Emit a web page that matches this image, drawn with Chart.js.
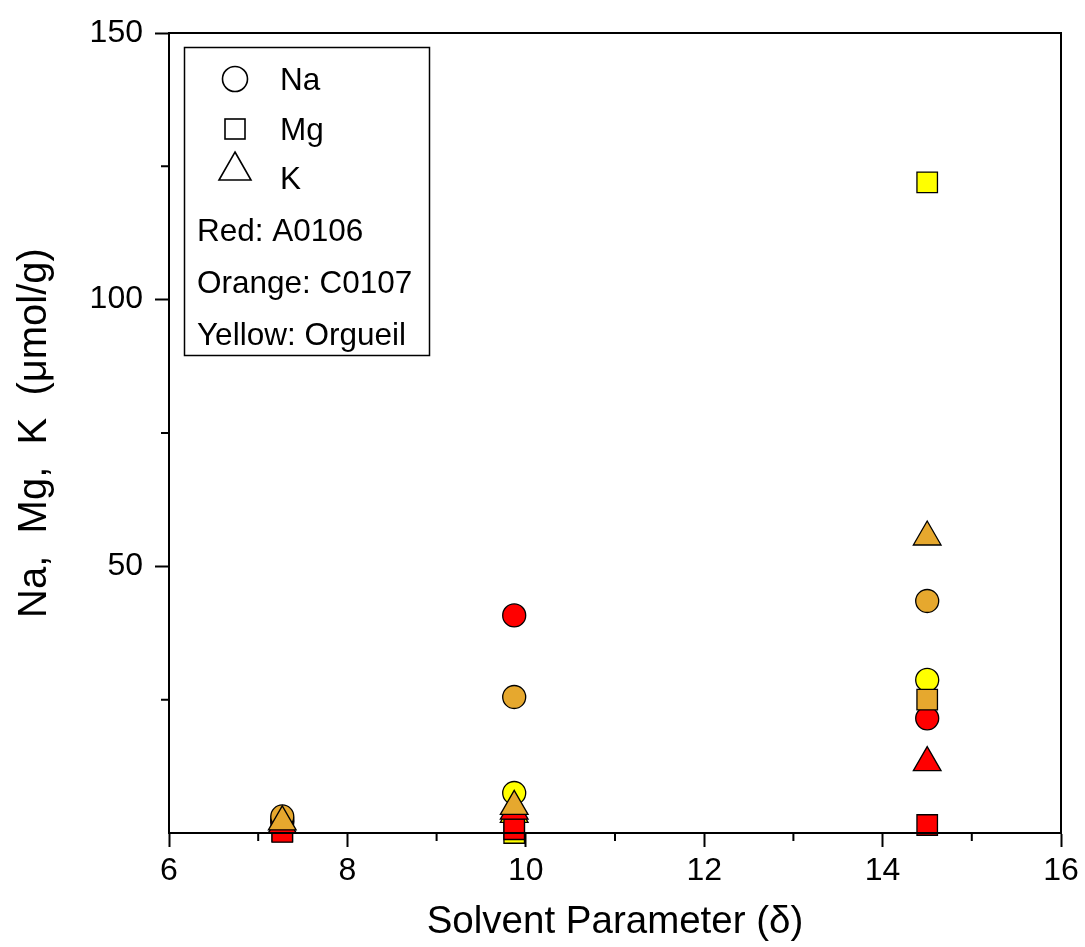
<!DOCTYPE html>
<html>
<head>
<meta charset="utf-8">
<script src="https://cdn.jsdelivr.net/npm/chart.js@4.4.1/dist/chart.umd.min.js"></script>
<style>
  html, body { margin: 0; padding: 0; background: #fff; }
  #wrap { width: 1085px; height: 947px; }
</style>
</head>
<body>
<div id="wrap"><canvas id="myChart" width="1085" height="947"></canvas></div>
<script>
// solvent parameter of each extraction step
const solvent = [7.27, 9.87, 14.5];

// values in umol/g, one entry per solvent step (null = not plotted)
const redNa = [2.0, 40.8, 21.5];
const redMg = [0.2, 0.7, 1.5];
const redK = [1.5, 4.1, 13.2];
const orangeNa = [3.1, 25.5, 43.5];
const orangeMg = [null, null, 25.0];
const orangeK = [2.1, 5.0, 55.5];
const yellowNa = [2.5, 7.5, 28.7];
const yellowMg = [0.3, 0.0, 122.0];
const yellowK = [1.5, 3.5, null];

const xTicks = [6, 8, 10, 12, 14, 16];
const yTicks = [50, 100, 150];

const RED = '#FF0000';
const ORANGE = '#E6A82E';
const YELLOW = '#FFFF00';

function pts(vals) {
    return solvent.map((x, i) => ({ x: x, y: vals[i] }));
}

function series(label, vals, color, style, radius, order) {
    return {
        label: label,
        data: pts(vals),
        pointStyle: style,
        pointRadius: radius,
        pointBackgroundColor: color,
        pointBorderColor: '#000',
        pointBorderWidth: 1.3,
        showLine: false,
        clip: false,
        order: order
    };
}

// lower order is drawn on top
const datasets = [
    series('Orange K', orangeK, ORANGE, 'triangle', 16, 1),
    series('Orange Mg', orangeMg, ORANGE, 'rect', 14.5, 2),
    series('Orange Na', orangeNa, ORANGE, 'circle', 11.5, 3),
    series('Red K', redK, RED, 'triangle', 16, 4),
    series('Red Mg', redMg, RED, 'rect', 14.5, 5),
    series('Red Na', redNa, RED, 'circle', 11.5, 6),
    series('Yellow K', yellowK, YELLOW, 'triangle', 16, 7),
    series('Yellow Mg', yellowMg, YELLOW, 'rect', 14.5, 8),
    series('Yellow Na', yellowNa, YELLOW, 'circle', 11.5, 9)
];

// frame, minor ticks and the key box
const framePlugin = {
    id: 'frame',
    afterDraw(chart) {
        const { ctx, chartArea: a, scales: { x, y } } = chart;
        ctx.save();
        ctx.strokeStyle = '#000';
        ctx.lineWidth = 2;
        ctx.strokeRect(a.left, a.top, a.right - a.left, a.bottom - a.top);

        // minor ticks
        ctx.beginPath();
        for (let v = 7; v < 16; v += 2) {
            const px = x.getPixelForValue(v);
            ctx.moveTo(px, a.bottom);
            ctx.lineTo(px, a.bottom + 8);
        }
        [25, 75, 125].forEach(v => {
            const py = y.getPixelForValue(v);
            ctx.moveTo(a.left, py);
            ctx.lineTo(a.left - 8, py);
        });
        ctx.stroke();

        // key
        ctx.lineWidth = 1.5;
        ctx.strokeRect(184.5, 47.5, 245, 308);
        ctx.lineWidth = 1.6;

        ctx.beginPath();
        ctx.arc(235, 79, 12.5, 0, Math.PI * 2);
        ctx.stroke();

        ctx.strokeRect(225, 119, 20, 20);

        ctx.beginPath();
        ctx.moveTo(235, 152);
        ctx.lineTo(251, 180);
        ctx.lineTo(219, 180);
        ctx.closePath();
        ctx.stroke();

        ctx.fillStyle = '#000';
        ctx.font = '31.5px "Liberation Sans", Arial, sans-serif';
        ctx.textBaseline = 'middle';
        ctx.textAlign = 'left';
        ctx.fillText('Na', 280, 81);
        ctx.fillText('Mg', 280, 131);
        ctx.fillText('K', 280, 180);
        ctx.fillText('Red: A0106', 197, 232);
        ctx.fillText('Orange: C0107', 197, 284);
        ctx.fillText('Yellow: Orgueil', 197, 336);
        ctx.restore();
    }
};

const ctx = document.getElementById('myChart').getContext('2d');
const myChart = new Chart(ctx, {
    type: 'scatter',
    data: { datasets: datasets },
    options: {
        responsive: false,
        animation: false,
        layout: { padding: { top: 33, right: 24, left: 0, bottom: 0 } },
        plugins: {
            legend: { display: false },
            tooltip: { enabled: false }
        },
        scales: {
            x: {
                type: 'linear',
                min: 6,
                max: 16,
                afterFit: s => { s.height = 114; },
                afterBuildTicks: s => { s.ticks = xTicks.map(v => ({ value: v })); },
                ticks: {
                    color: '#000',
                    padding: 5,
                    maxRotation: 0,
                    font: { family: '"Liberation Sans", Arial, sans-serif', size: 32 }
                },
                grid: {
                    drawOnChartArea: false,
                    tickLength: 14,
                    tickWidth: 2,
                    tickColor: '#000'
                },
                border: { color: '#000', width: 2 },
                title: {
                    display: true,
                    text: 'Solvent Parameter (δ)',
                    color: '#000',
                    padding: { top: 0, bottom: 2 },
                    font: { family: '"Liberation Sans", Arial, sans-serif', size: 38.5 }
                }
            },
            y: {
                type: 'linear',
                min: 0,
                max: 150,
                afterFit: s => { s.width = 169; },
                afterBuildTicks: s => { s.ticks = yTicks.map(v => ({ value: v })); },
                ticks: {
                    color: '#000',
                    padding: 12,
                    font: { family: '"Liberation Sans", Arial, sans-serif', size: 32 }
                },
                grid: {
                    drawOnChartArea: false,
                    tickLength: 14,
                    tickWidth: 2,
                    tickColor: '#000'
                },
                border: { color: '#000', width: 2 },
                title: {
                    display: true,
                    text: 'Na,  Mg,  K  (μmol/g)',
                    color: '#000',
                    padding: { top: 11, bottom: 0 },
                    font: { family: '"Liberation Sans", Arial, sans-serif', size: 40 }
                }
            }
        }
    },
    plugins: [framePlugin]
});
</script>
</body>
</html>
